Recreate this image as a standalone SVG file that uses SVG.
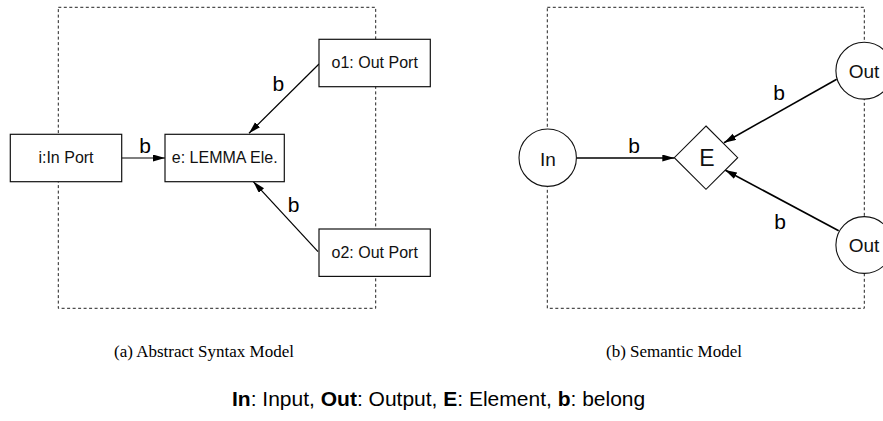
<svg xmlns="http://www.w3.org/2000/svg" width="883" height="421" viewBox="0 0 883 421">
  <style>
    .frame { fill: none; stroke: #222; stroke-width: 1; stroke-dasharray: 3 2.5; }
    .box { fill: #fff; stroke: #111; stroke-width: 1.2; }
    .circ { fill: #fff; stroke: #111; stroke-width: 1.1; }
    .edge { fill: none; stroke: #000; stroke-width: 1.2; marker-end: url(#head); }
    .edge2 { fill: none; stroke: #000; stroke-width: 1.6; marker-end: url(#head); }
    .lbl { font-family: "Liberation Sans", Arial, sans-serif; font-size: 16px; fill: #111; text-anchor: middle; }
    .sem { font-family: "Liberation Sans", Arial, sans-serif; font-size: 19px; fill: #111; text-anchor: middle; }
    .b { font-family: "Liberation Sans", Arial, sans-serif; font-size: 21px; fill: #000; text-anchor: middle; }
    .cap { font-family: "Liberation Serif", "Times New Roman", serif; font-size: 17px; fill: #000; text-anchor: middle; }
    .legend { font-family: "Liberation Sans", Arial, sans-serif; font-size: 21px; fill: #000; }
    .legend .k { font-weight: bold; }
  </style>
  <defs>
    <marker id="head" markerUnits="userSpaceOnUse" markerWidth="13" markerHeight="8" refX="12" refY="3.5" orient="auto">
      <path d="M0,0 L12,3.5 L0,7 z" fill="#000"/>
    </marker>
  </defs>

  <!-- dashed boundaries of the two models -->
  <rect class="frame" x="58.3" y="7.3" width="317.4" height="301"/>
  <rect class="frame" x="547.3" y="7.3" width="317" height="301"/>

  <!-- connectors -->
  <g id="connectors">
    <line class="edge" x1="121.7" y1="158" x2="165" y2="158"/>
    <line class="edge" x1="319" y1="64" x2="249" y2="133.3"/>
    <line class="edge" x1="318" y1="251.7" x2="253.3" y2="181.7"/>
    <line class="edge2" x1="576.3" y1="158" x2="674.3" y2="158"/>
    <line class="edge2" x1="836.7" y1="79.3" x2="724" y2="142.7"/>
    <line class="edge2" x1="838.7" y1="230.7" x2="725" y2="170"/>
    <text class="b" x="145" y="153.3">b</text>
    <text class="b" x="278.3" y="91">b</text>
    <text class="b" x="293.5" y="211.7">b</text>
    <text class="b" x="634" y="153.3">b</text>
    <text class="b" x="779" y="100">b</text>
    <text class="b" x="780" y="229.3">b</text>
  </g>

  <!-- abstract syntax model -->
  <g id="in-port">
    <rect class="box" x="10.3" y="134.3" width="111.4" height="47.4"/>
    <text class="lbl" x="66" y="163">i:In Port</text>
  </g>
  <g id="lemma-element">
    <rect class="box" x="165" y="134.3" width="119.3" height="47.4"/>
    <text class="lbl" x="224.7" y="163">e: LEMMA Ele.</text>
  </g>
  <g id="out-port-1">
    <rect class="box" x="319" y="39.3" width="111.3" height="47.4"/>
    <text class="lbl" x="374.7" y="68">o1: Out Port</text>
  </g>
  <g id="out-port-2">
    <rect class="box" x="319" y="229" width="111.3" height="47.4"/>
    <text class="lbl" x="374.7" y="257.5">o2: Out Port</text>
  </g>

  <!-- semantic model -->
  <g id="in">
    <circle class="circ" cx="547.7" cy="157.7" r="28.7"/>
    <text class="sem" x="548" y="165.5">In</text>
  </g>
  <g id="element">
    <path class="circ" d="M706,126 L737.7,157.7 L706,189.3 L674.3,157.7 z"/>
    <text class="sem" x="707" y="166" style="font-size:23px">E</text>
  </g>
  <g id="out-1">
    <circle class="circ" cx="864.3" cy="70.7" r="28.4"/>
    <text class="sem" x="864" y="77.5">Out</text>
  </g>
  <g id="out-2">
    <circle class="circ" cx="864.3" cy="245" r="28.4"/>
    <text class="sem" x="864" y="252">Out</text>
  </g>

  <!-- captions -->
  <text class="cap" x="204" y="357">(a) Abstract Syntax Model</text>
  <text class="cap" x="674" y="357">(b) Semantic Model</text>
  <text class="legend" x="232" y="406"><tspan class="k">In</tspan>: Input, <tspan class="k">Out</tspan>: Output, <tspan class="k">E</tspan>: Element, <tspan class="k">b</tspan>: belong</text>
</svg>
